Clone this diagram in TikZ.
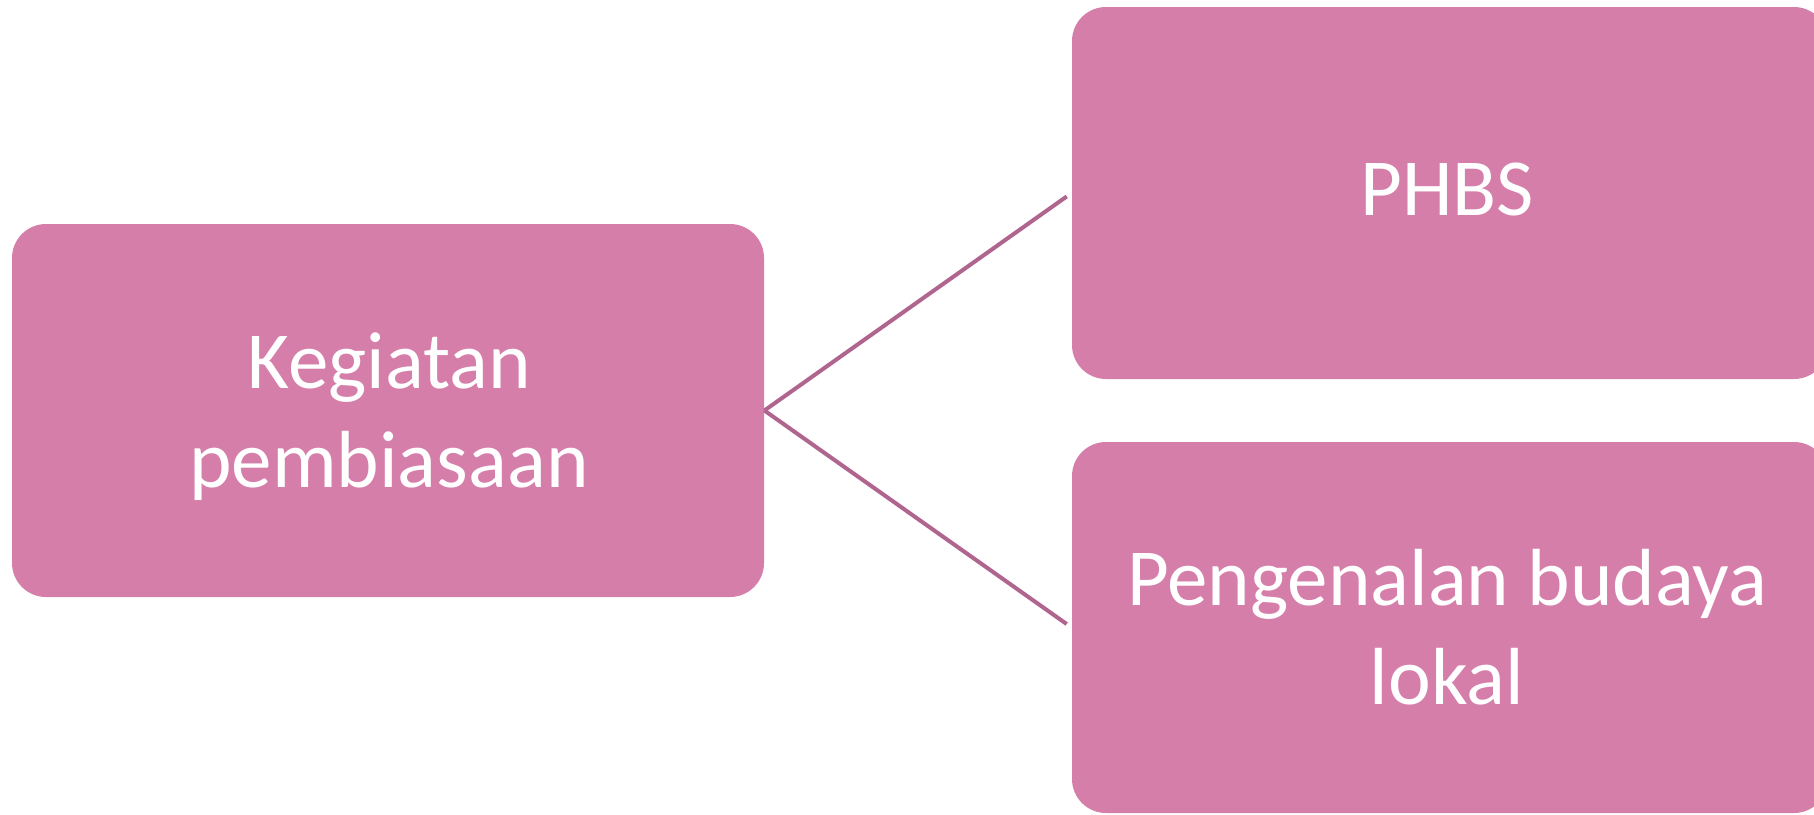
\documentclass[tikz,border=0pt]{standalone}
\usepackage{fontspec}
\setmainfont{Carlito}
\definecolor{boxpink}{HTML}{D67EAA}
\definecolor{linkpink}{HTML}{B0658F}
\begin{document}
\begin{tikzpicture}[x=0.5pt,y=-0.5pt,
  pinkbox/.style={draw=none,fill=boxpink,rounded corners=17pt,inner sep=0pt,minimum width=#1},
  pinkbox/.default=376pt,
  lbl/.style={text=white,inner sep=0pt,anchor=base,font=\fontsize{40.5pt}{49.5pt}\selectfont},
  link/.style={draw=linkpink,line width=2pt}]
\useasboundingbox (0,0) rectangle (1814,814);
\node[pinkbox=376pt,minimum height=186.5pt] (left) at (388,410.5) {};
\node[pinkbox=378pt,minimum height=186pt] (top) at (1450,193) {};
\node[pinkbox=378pt,minimum height=185.5pt] (bottom) at (1450,627.5) {};
\node[lbl] (t1a) at (389,388) {Kegiatan};
\node[lbl] (t1b) at (389,487) {pembiasaan};
\node[lbl] (t2) at (1447,215) {PHBS};
\node[lbl] (t3a) at (1447,605) {Pengenalan budaya};
\node[lbl] (t3b) at (1447,704) {lokal};
\draw[link,shorten >=3pt] (left.east) -- (top.west);
\draw[link,shorten >=3pt] (left.east) -- (bottom.west);
\end{tikzpicture}
\end{document}
